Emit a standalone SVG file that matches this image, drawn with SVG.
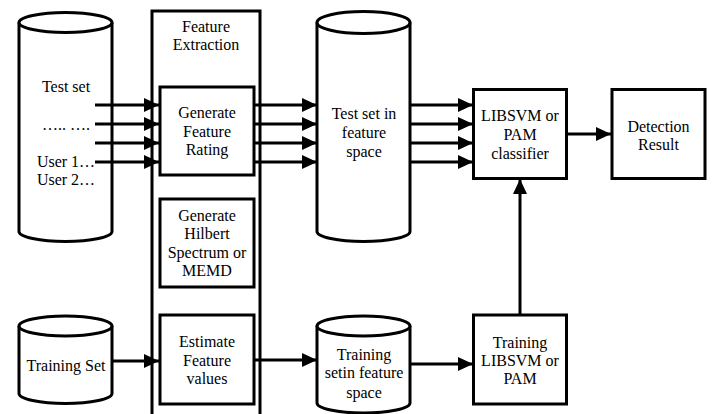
<svg xmlns="http://www.w3.org/2000/svg" width="712" height="414" viewBox="0 0 712 414">
<defs>
<marker id="ah" markerWidth="15" markerHeight="14" refX="15" refY="7" orient="auto" markerUnits="userSpaceOnUse">
<path d="M0,0 L15,7 L0,14 Z" fill="#000"/>
</marker>
<style>
.box{fill:#fff;stroke:#000;stroke-width:3}
.cyl{fill:#fff;stroke:#000;stroke-width:3}
.t{font-size:16px;fill:#000;text-anchor:middle}
.c{stroke:#000;stroke-width:3;fill:none;marker-end:url(#ah)}
</style>
</defs>
<rect width="712" height="414" fill="#fff"/>
<g font-family="'Liberation Serif', 'DejaVu Serif', serif">
<g id="testset">
<path class="cyl" d="M19,22.5 V231.5 A46.5,10 0 0 0 112,231.5 V22.5"/>
<ellipse class="cyl" cx="65.5" cy="22.5" rx="46.5" ry="10"/>
<text class="t" x="66" y="92">Test set</text>
<text class="t" x="66" y="130">….. ….</text>
<text class="t" x="66" y="167">User 1…</text>
<text class="t" x="66" y="185">User 2…</text>
</g>

<g id="trainingset">
<path class="cyl" d="M19,326 V393.5 A46.5,10 0 0 0 112,393.5 V326"/>
<ellipse class="cyl" cx="65.5" cy="326" rx="46.5" ry="10"/>
<text class="t" x="66" y="371">Training Set</text>
</g>

<g id="featureextraction">
<rect class="box" x="152" y="11" width="108" height="420"/>
<text class="t" x="206" y="32">Feature</text>
<text class="t" x="206" y="50">Extraction</text>
</g>

<g id="generaterating">
<rect class="box" x="160" y="87" width="94" height="88"/>
<text class="t" x="207" y="118">Generate</text>
<text class="t" x="207" y="137">Feature</text>
<text class="t" x="207" y="155">Rating</text>
</g>

<g id="hilbert">
<rect class="box" x="160" y="199" width="94" height="88"/>
<text class="t" x="207" y="221">Generate</text>
<text class="t" x="207" y="239">Hilbert</text>
<text class="t" x="207" y="258">Spectrum or</text>
<text class="t" x="207" y="276">MEMD</text>
</g>

<g id="estimate">
<rect class="box" x="160" y="315" width="94" height="89"/>
<text class="t" x="207" y="347">Estimate</text>
<text class="t" x="207" y="366">Feature</text>
<text class="t" x="207" y="384">values</text>
</g>

<g id="testfeature">
<path class="cyl" d="M317,22.5 V231.5 A46.5,10 0 0 0 410,231.5 V22.5"/>
<ellipse class="cyl" cx="363.5" cy="22.5" rx="46.5" ry="11"/>
<text class="t" x="364" y="119">Test set in</text>
<text class="t" x="364" y="138">feature</text>
<text class="t" x="364" y="157">space</text>
</g>

<g id="trainfeature">
<path class="cyl" d="M317,326 V403 A46.5,10 0 0 0 410,403 V326"/>
<ellipse class="cyl" cx="363.5" cy="326" rx="46.5" ry="10"/>
<text class="t" x="364" y="360">Training</text>
<text class="t" x="364" y="378">setin feature</text>
<text class="t" x="364" y="398">space</text>
</g>

<g id="classifier">
<rect class="box" x="473.5" y="89.5" width="93" height="89"/>
<text class="t" x="520" y="121">LIBSVM or</text>
<text class="t" x="520" y="140">PAM</text>
<text class="t" x="520" y="159">classifier</text>
</g>

<g id="detection">
<rect class="box" x="612" y="89.5" width="93" height="89"/>
<text class="t" x="658.5" y="132">Detection</text>
<text class="t" x="658.5" y="150">Result</text>
</g>

<g id="trainlibsvm">
<rect class="box" x="473.5" y="315" width="93" height="89"/>
<text class="t" x="520" y="348">Training</text>
<text class="t" x="520" y="366">LIBSVM or</text>
<text class="t" x="520" y="384">PAM</text>
</g>
</g>
<g id="connectors">
<line class="c" x1="95" y1="105" x2="159" y2="105"/>
<line class="c" x1="95" y1="124" x2="159" y2="124"/>
<line class="c" x1="95" y1="143" x2="159" y2="143"/>
<line class="c" x1="95" y1="162" x2="159" y2="162"/>
<line class="c" x1="254" y1="105" x2="317" y2="105"/>
<line class="c" x1="254" y1="124" x2="317" y2="124"/>
<line class="c" x1="254" y1="143" x2="317" y2="143"/>
<line class="c" x1="254" y1="162" x2="317" y2="162"/>
<line class="c" x1="410" y1="105" x2="473" y2="105"/>
<line class="c" x1="410" y1="124" x2="473" y2="124"/>
<line class="c" x1="410" y1="143" x2="473" y2="143"/>
<line class="c" x1="410" y1="162" x2="473" y2="162"/>
<line class="c" x1="566" y1="134" x2="611" y2="134"/>
<line class="c" x1="520" y1="314" x2="520" y2="179"/>
<line class="c" x1="112" y1="361" x2="159" y2="361"/>
<line class="c" x1="254" y1="360" x2="317" y2="360"/>
<line class="c" x1="410" y1="364" x2="473" y2="364"/>
</g>
</svg>
